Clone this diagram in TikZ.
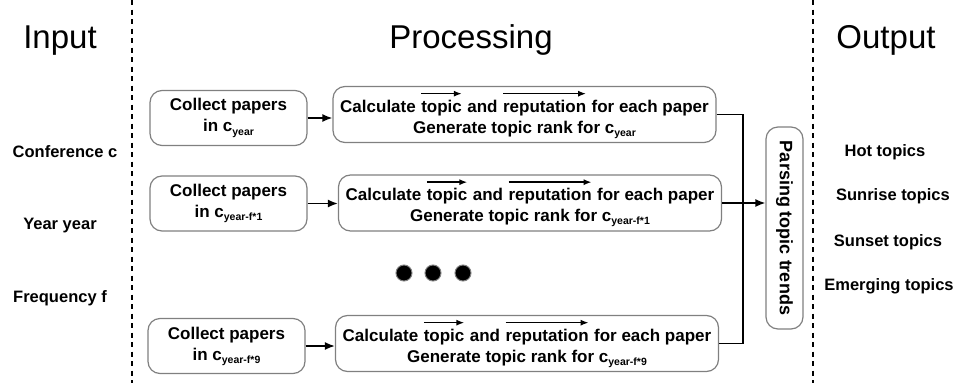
\documentclass[tikz,border=0pt]{standalone}
\usepackage{fontspec}
\setmainfont{Liberation Sans}
\usetikzlibrary{arrows.meta}

\newcommand{\csub}[1]{c\raisebox{-.35ex}{\fontsize{10.5}{10.5}\selectfont #1}}
\newcommand{\vecword}[1]{\tikz[baseline=(vw.base)]{%
  \node[shape=rectangle,draw=none,fill=none,inner sep=0pt,outer sep=0pt,minimum width=0pt,minimum height=0pt,anchor=base] (vw) at (0,0) {#1};
  \draw[black,line width=1.5pt,-{Latex[length=8pt,width=6pt]}] ([yshift=6pt]vw.north west) -- ([yshift=6pt]vw.north east);}}

\begin{document}
\begin{tikzpicture}[x=1pt,y=-1pt,
    box/.style={draw=gray,line width=1.2pt,rounded corners=12pt,align=center,
      font=\bfseries\fontsize{17}{21}\selectfont},
    collectbox/.style={box,minimum width=157pt,minimum height=55pt},
    rankbox/.style={box,minimum width=383pt,minimum height=56pt},
    sidetext/.style={anchor=base,font=\bfseries\fontsize{16.5}{19}\selectfont},
    headtext/.style={anchor=base,font=\fontsize{33}{38}\selectfont},
    link/.style={line width=1.6pt,-{Latex[length=10pt,width=8pt]}},
    sepline/.style={line width=2.8pt,dash pattern=on 5pt off 4.5pt},
    dotmark/.style={circle,fill=black,draw=gray,line width=1pt,minimum size=16pt,inner sep=0pt}]
  \useasboundingbox (0,0) rectangle (956,383);

  \node[headtext] (inhead) at (60,48) {Input};
  \node[headtext] (prochead) at (471,48) {Processing};
  \node[headtext] (outhead) at (886,48) {Output};

  \draw[sepline] (132,0) -- (132,383);
  \draw[sepline] (813,0) -- (813,383);

  \node[sidetext] (conf) at (65,157) {Conference c};
  \node[sidetext] (year) at (60,229) {Year year};
  \node[sidetext] (freq) at (60,302) {Frequency f};

  \node[collectbox] (col1) at (228.5,118) {Collect papers\\in \csub{year}};
  \node[collectbox] (col2) at (228.5,203.5) {Collect papers\\in \csub{year-f*1}};
  \node[collectbox] (col3) at (226.5,346) {Collect papers\\in \csub{year-f*9}};

  \node[rankbox] (rank1) at (524.5,114.5) {Calculate \vecword{topic} and \vecword{reputation} for each paper\\Generate topic rank for \csub{year}};
  \node[rankbox] (rank2) at (530,203) {Calculate \vecword{topic} and \vecword{reputation} for each paper\\Generate topic rank for \csub{year-f*1}};
  \node[rankbox] (rank3) at (527,343.5) {Calculate \vecword{topic} and \vecword{reputation} for each paper\\Generate topic rank for \csub{year-f*9}};

  \foreach \x [count=\i] in {404,433,463}
    \node[dotmark] (dot\i) at (\x,273) {};

  \node[box,minimum width=37pt,minimum height=202pt,inner sep=0pt,
    font=\bfseries\fontsize{18}{18}\selectfont] (trend) at (784.5,228) {\rotatebox{-90}{Parsing topic trends}};

  \foreach \i in {1,2,3}
    \draw[link] (col\i.east) -- (col\i.east -| rank\i.west);
  \coordinate (bus) at (743,0);
  \draw[line width=1.6pt] (rank1.east) -- (rank1.east -| bus) -- (rank3.east -| bus) -- (rank3.east);
  \draw[link] (rank2.east) -- (rank2.east -| trend.west);

  \node[sidetext] (hot) at (885,156) {Hot topics};
  \node[sidetext] (sunrise) at (893,200) {Sunrise topics};
  \node[sidetext] (sunset) at (888,246) {Sunset topics};
  \node[sidetext] (emerging) at (889,290) {Emerging topics};
\end{tikzpicture}
\end{document}
